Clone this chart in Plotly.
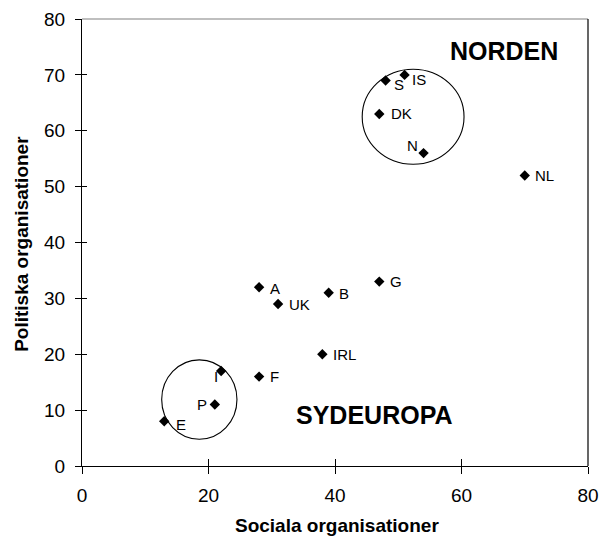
import plotly.graph_objects as go

# ---------------- data ----------------
countries = ["S", "IS", "DK", "N", "NL", "A", "UK", "B", "G", "IRL", "F", "I", "P", "E"]
social = [48, 51, 47, 54, 70, 28, 31, 39, 47, 38, 28, 22, 21, 13]
political = [69, 70, 63, 56, 52, 32, 29, 31, 33, 20, 16, 17, 11, 8]

x_ticks = [0, 20, 40, 60, 80]
y_ticks = [0, 10, 20, 30, 40, 50, 60, 70, 80]

group_names = ["NORDEN", "SYDEUROPA"]
group_x = [66.7, 46.2]
group_y = [74.2, 9.1]

# group circles (data bounds)
circle_x0 = [44.3, 12.6]
circle_x1 = [60.4, 24.5]
circle_y0 = [54.0, 4.8]
circle_y1 = [71.0, 19.0]

x_title = "Sociala organisationer"
y_title = "Politiska organisationer"

# ---------------- styling ----------------
FONT = "Liberation Sans, Arial, sans-serif"
# label placement: (xanchor, xshift px, yshift px)
label_place = {
    "S": ("left", 7, -4), "IS": ("left", 6, -5), "DK": ("left", 11, 0),
    "N": ("center", -11, 8), "NL": ("left", 9, 0), "A": ("left", 10, -1),
    "UK": ("left", 10, -1), "B": ("left", 9, -1), "G": ("left", 10, 0),
    "IRL": ("left", 10, 0), "F": ("left", 10, 0), "I": ("center", -5, -5),
    "P": ("right", -7, 0), "E": ("left", 11, -3),
}

fig = go.Figure()
fig.add_trace(go.Scatter(
    x=social, y=political, mode="markers",
    marker=dict(symbol="diamond", size=8, color="black"),
    showlegend=False, hoverinfo="text", text=countries,
))
# dummy trace for the overlay axes (inside half of cross ticks)
fig.add_trace(go.Scatter(x=[], y=[], xaxis="x2", yaxis="y2", showlegend=False))

annotations = []
for c, xv, yv in zip(countries, social, political):
    anc, xs, ys = label_place[c]
    annotations.append(dict(
        x=xv, y=yv, xref="x", yref="y", text=c, showarrow=False,
        xanchor=anc, yanchor="middle", xshift=xs, yshift=ys, borderpad=0,
        font=dict(family=FONT, size=15, color="black"),
    ))
for name, gx, gy in zip(group_names, group_x, group_y):
    annotations.append(dict(
        x=gx, y=gy, xref="x", yref="y", text="<b>" + name + "</b>", showarrow=False,
        xanchor="center", yanchor="middle",
        font=dict(family=FONT, size=25, color="black"),
    ))
annotations.append(dict(
    x=0.503, y=-0.134, xref="paper", yref="paper", text="<b>" + x_title + "</b>",
    showarrow=False, xanchor="center", yanchor="middle",
    font=dict(family=FONT, size=19, color="black"),
))
annotations.append(dict(
    x=-0.1186, y=0.497, xref="paper", yref="paper", text="<b>" + y_title + "</b>",
    showarrow=False, xanchor="center", yanchor="middle", textangle=-90,
    font=dict(family=FONT, size=19, color="black"),
))

shapes = []
for x0, x1, y0, y1 in zip(circle_x0, circle_x1, circle_y0, circle_y1):
    shapes.append(dict(type="circle", xref="x", yref="y", x0=x0, x1=x1, y0=y0, y1=y1,
                       line=dict(color="black", width=1.1)))
# plot area border (top gray, right dark)
shapes.append(dict(type="line", xref="paper", yref="paper", x0=0, x1=1, y0=1, y1=1,
                   line=dict(color="#808080", width=1.2)))
shapes.append(dict(type="line", xref="paper", yref="paper", x0=1, x1=1, y0=0, y1=1,
                   line=dict(color="#000000", width=1.2)))

axis_common = dict(showgrid=False, zeroline=False, automargin=False)
fig.update_layout(
    width=600, height=536, autosize=False,
    margin=dict(l=82, r=12, t=19, b=70, autoexpand=False),
    paper_bgcolor="white", plot_bgcolor="white",
    font=dict(family=FONT, color="black"),
    xaxis=dict(range=[0, 80], tickvals=x_ticks, ticks="outside", ticklen=7,
               tickcolor="black", tickwidth=1.2, showline=True, linecolor="black",
               linewidth=1.2, tickfont=dict(size=19, family=FONT, color="black"),
               ticklabelstandoff=5, **axis_common),
    yaxis=dict(range=[0, 80], tickvals=y_ticks, ticks="outside", ticklen=6,
               tickcolor="black", tickwidth=1.2, showline=True, linecolor="black",
               linewidth=1.2, tickfont=dict(size=19, family=FONT, color="black"),
               ticklabelstandoff=6, **axis_common),
    xaxis2=dict(range=[0, 80], tickvals=x_ticks, ticks="inside", ticklen=7,
                tickcolor="black", tickwidth=1.2, showticklabels=False,
                overlaying="x", anchor="y2", side="bottom", showline=False,
                **axis_common),
    yaxis2=dict(range=[0, 80], tickvals=y_ticks, ticks="inside", ticklen=5,
                tickcolor="black", tickwidth=1.2, showticklabels=False,
                overlaying="y", anchor="x2", side="left", showline=False,
                **axis_common),
    annotations=annotations,
    shapes=shapes,
)

post = (
    "document.body.style.margin='0px';"
    "document.body.style.overflow='hidden';"
    "var gd=document.getElementById('{plot_id}');"
    "Plotly.relayout(gd,{width:600,height:536});"
)
fig.write_html("out.html", config={"responsive": False, "displayModeBar": False},
               post_script=post)
